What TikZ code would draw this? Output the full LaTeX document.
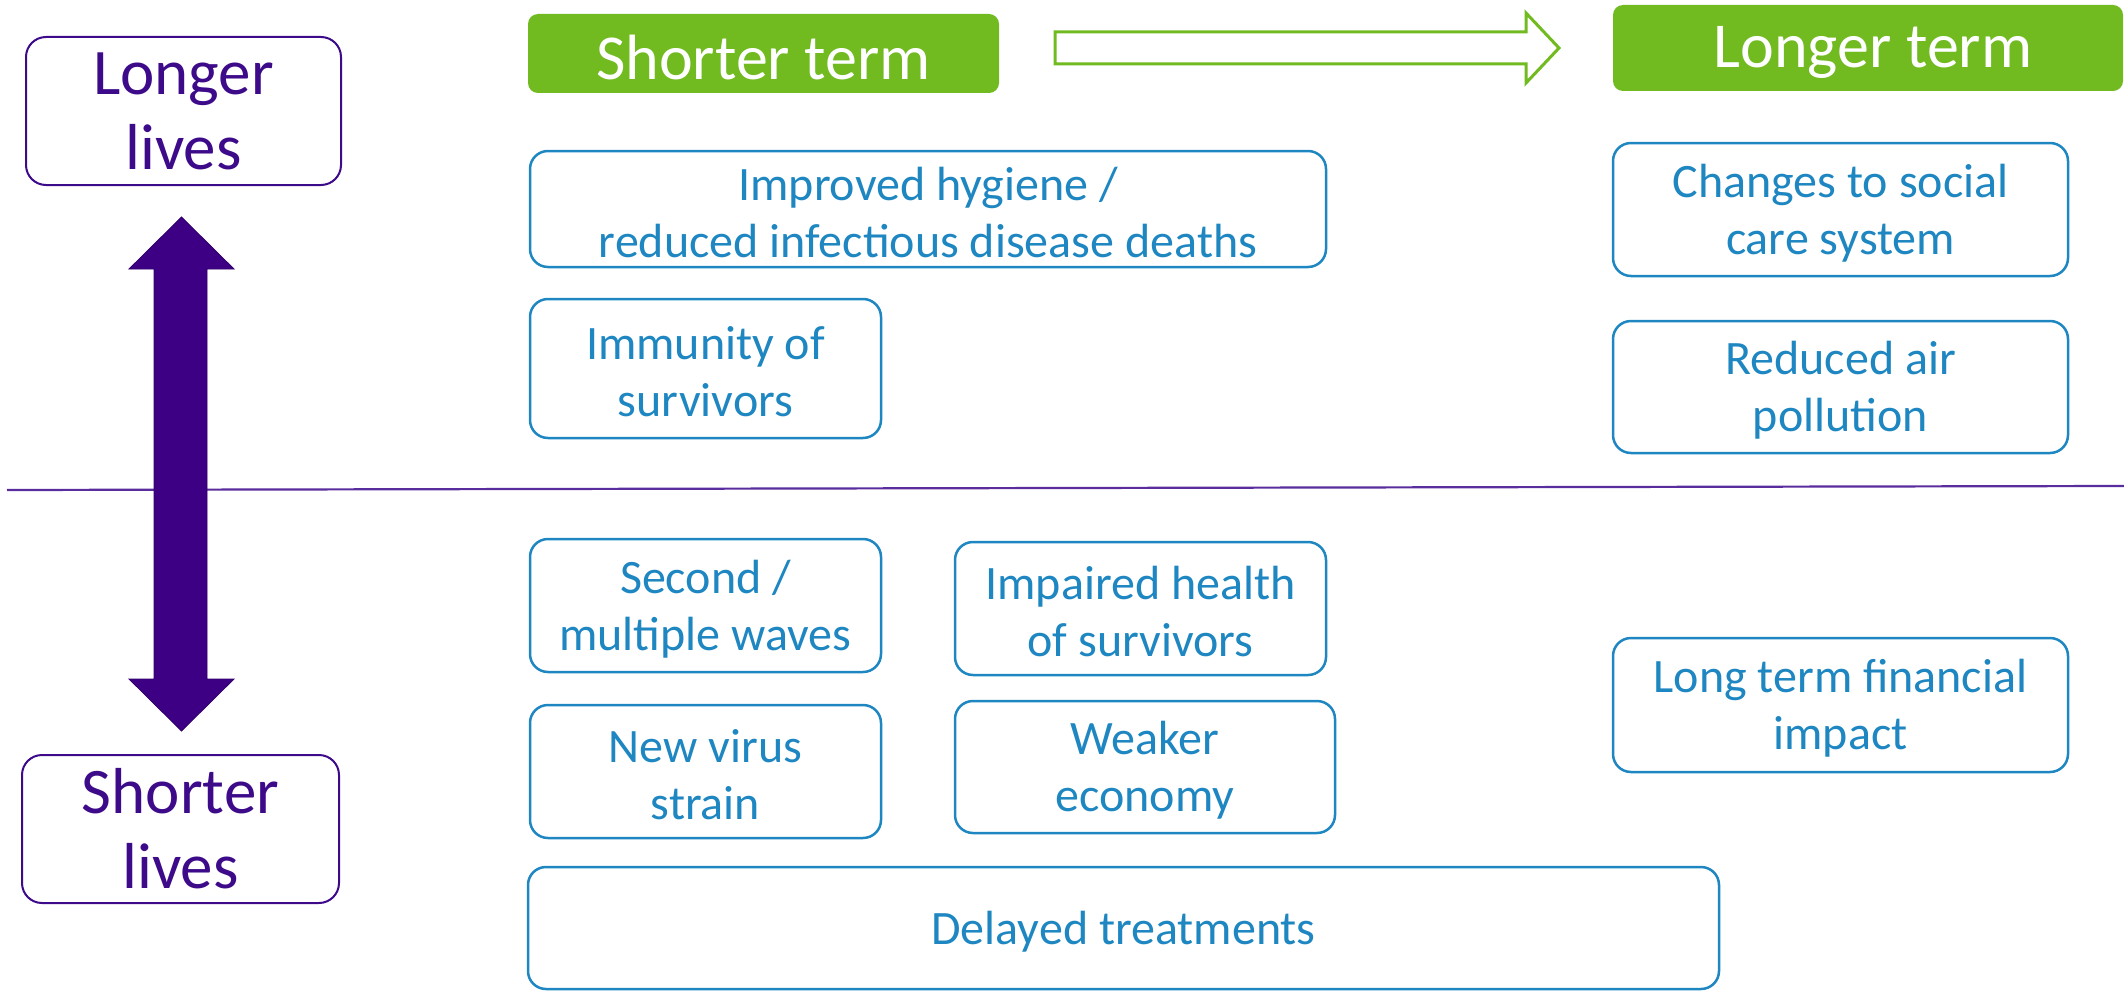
\documentclass[tikz,border=0pt]{standalone}
\usepackage{fontspec}
\setmainfont{Carlito}
\definecolor{pur}{HTML}{3D0A8A}
\definecolor{arrowpur}{HTML}{3D0085}
\definecolor{linepur}{HTML}{5A2D9E}
\definecolor{blu}{HTML}{1E86C1}
\definecolor{grn}{HTML}{71BB21}
\begin{document}
\begin{tikzpicture}[x=0.5pt,y=-0.5pt,
  sz/.style 2 args={minimum width=#1*0.5pt, minimum height=#2*0.5pt},
  bluebox/.style={draw=blu, line width=1.25pt, rounded corners=9pt, inner sep=0pt},
  btext/.style={text=blu, font=\fontsize{24}{28.5}\selectfont, align=center,
    inner sep=0pt, yshift=-1.75pt},
  purbox/.style={draw=pur, line width=1pt, rounded corners=10pt, text=pur,
    font=\fontsize{32.5}{37.5}\selectfont, align=center, inner sep=0pt},
  grnbox/.style={fill=grn, draw=none, rounded corners=5pt, inner sep=0pt},
  gtext/.style={text=white, font=\fontsize{32}{37}\selectfont, inner sep=0pt,
    yshift=-2pt}]
\useasboundingbox (0,0) rectangle (2124,990);

% horizontal divider
\coordinate (hl) at (7,490);
\coordinate (hr) at (2124,486);
\draw[linepur, line width=1.1pt] (hl) -- (hr);

% vertical double arrow
\fill[arrowpur, draw=arrowpur!80!black, line width=0.4pt]
  (129,269) -- (181.5,217) -- (234,269) -- (207,269) -- (207,679) -- (234,679)
  -- (181.5,731) -- (129,679) -- (154,679) -- (154,269) -- cycle;

% hollow green arrow
\draw[grn, line width=1.5pt, fill=white]
  (1055,32) -- (1526,32) -- (1526,13) -- (1559,48) -- (1526,83) -- (1526,64)
  -- (1055,64) -- cycle;

% left labels
\node[purbox, sz={315}{148}] (longer) at (183.5,111) {Longer\\lives};
\node[purbox, sz={317}{148}] (shorter) at (180.5,829) {Shorter\\lives};

% headers
\node[grnbox, sz={471}{79}, label={[gtext]center:Shorter term}] (sterm) at (763.5,53.5) {};
\node[grnbox, sz={510}{86}, label={[gtext, xshift=2.5pt]center:Longer term}] (lterm) at (1868,48) {};

% upper half
\node[bluebox, sz={796}{116}, label={[btext]center:{Improved hygiene /\\reduced infectious disease deaths}}] (hyg) at (928,209) {};
\node[bluebox, sz={351}{139}, label={[btext]center:{Immunity of\\survivors}}] (imm) at (705.5,368.5) {};
\node[bluebox, sz={455}{133}, label={[btext]center:{Changes to social\\care system}}] (soc) at (1840.5,209.5) {};
\node[bluebox, sz={455}{132}, label={[btext]center:{Reduced air\\pollution}}] (air) at (1840.5,387) {};

% lower half
\node[bluebox, sz={351}{133}, label={[btext]center:{Second /\\multiple waves}}] (wav) at (705.5,605.5) {};
\node[bluebox, sz={351}{133}, label={[btext]center:{New virus\\strain}}] (vir) at (705.5,771.5) {};
\node[bluebox, sz={371}{133}, label={[btext]center:{Impaired health\\of survivors}}] (imp) at (1140.5,608.5) {};
\node[bluebox, sz={380}{132}, label={[btext]center:{Weaker\\economy}}] (eco) at (1145,767) {};
\node[bluebox, sz={455}{134}, label={[btext]center:{Long term financial\\impact}}] (fin) at (1840.5,705) {};
\node[bluebox, sz={1191}{122}, label={[btext]center:Delayed treatments}] (del) at (1123.5,928) {};
\end{tikzpicture}
\end{document}
